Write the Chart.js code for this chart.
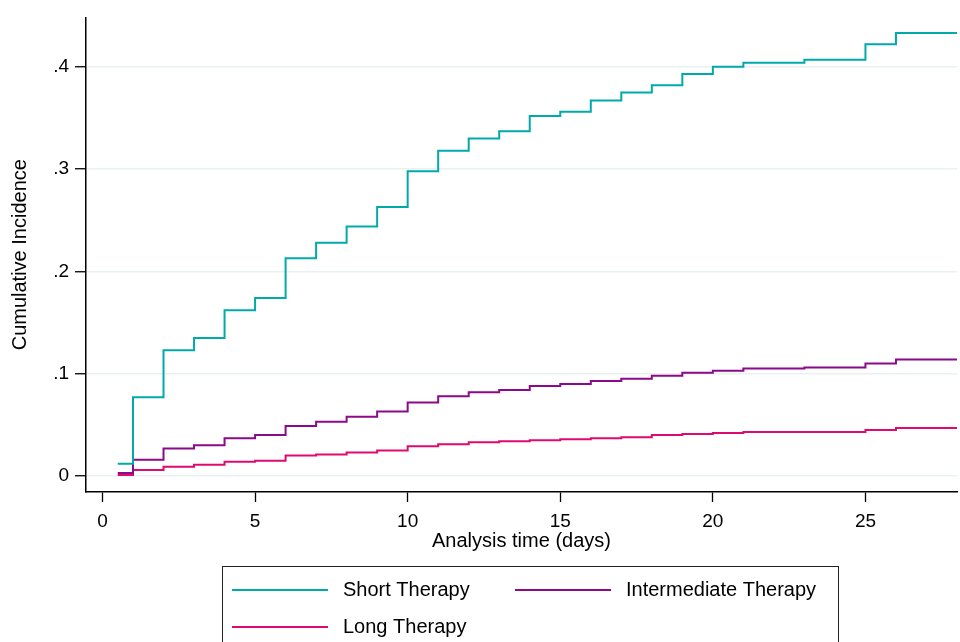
<!DOCTYPE html>
<html>
<head>
<meta charset="utf-8">
<script src="https://cdn.jsdelivr.net/npm/chart.js@4.4.0/dist/chart.umd.min.js"></script>
<style>
html, body { margin: 0; padding: 0; background: #fff; }
</style>
</head>
<body>
<canvas id="incidenceChart" width="960" height="642"></canvas>
<script>
// step times (days) and cumulative incidence
let days = [0.5, 1, 2, 3, 4, 5, 6, 7, 8, 9, 10, 11, 12, 13, 14, 15, 16, 17, 18, 19, 20, 21, 23, 25, 26, 28];
let shortTherapy = [0.012, 0.077, 0.123, 0.135, 0.162, 0.174, 0.213, 0.228, 0.244, 0.263, 0.298, 0.318, 0.330, 0.337, 0.352, 0.356, 0.367, 0.375, 0.382, 0.393, 0.400, 0.404, 0.407, 0.422, 0.433, 0.433];
let intermediateTherapy = [0.003, 0.016, 0.027, 0.030, 0.037, 0.040, 0.049, 0.053, 0.058, 0.063, 0.072, 0.078, 0.082, 0.084, 0.088, 0.090, 0.093, 0.095, 0.098, 0.101, 0.103, 0.105, 0.106, 0.110, 0.114, 0.114];
let longTherapy = [0.001, 0.006, 0.009, 0.011, 0.014, 0.015, 0.020, 0.021, 0.023, 0.025, 0.029, 0.031, 0.033, 0.034, 0.035, 0.036, 0.037, 0.038, 0.040, 0.041, 0.042, 0.043, 0.043, 0.045, 0.047, 0.047];
let seriesNames = ['Short Therapy', 'Intermediate Therapy', 'Long Therapy'];
let seriesColors = ['#00a9aa', '#8a0a8a', '#de0a70'];
let xTicks = [0, 5, 10, 15, 20, 25];
let yTicks = [0, 0.1, 0.2, 0.3, 0.4];

const FONT = '"Liberation Sans", Arial, sans-serif';

function toPoints(values) {
    return days.map((d, i) => ({ x: d, y: values[i] }));
}

function makeDataset(name, values, color) {
    return {
        label: name,
        data: toPoints(values),
        borderColor: color,
        backgroundColor: color,
        borderWidth: 2,
        stepped: 'before',
        pointRadius: 0,
        fill: false
    };
}

// Stata-style boxed legend under the plot
const boxLegend = {
    id: 'boxLegend',
    afterDraw(chart) {
        let c = chart.ctx;
        c.save();
        c.strokeStyle = '#222';
        c.lineWidth = 1;
        c.strokeRect(222.5, 566.5, 616, 100);
        let spots = [[232, 590], [515, 590], [232, 627]];
        c.font = '20px ' + FONT;
        c.textBaseline = 'middle';
        c.fillStyle = '#000';
        chart.data.datasets.forEach((ds, i) => {
            let [x, y] = spots[i];
            c.strokeStyle = ds.borderColor;
            c.lineWidth = 2;
            c.beginPath();
            c.moveTo(x, y);
            c.lineTo(x + 96, y);
            c.stroke();
            c.fillText(ds.label, x + 111, y);
        });
        c.restore();
    }
};

let ctx = document.getElementById('incidenceChart').getContext('2d');
let incidenceChart = new Chart(ctx, {
    type: 'line',
    data: {
        datasets: [
            makeDataset(seriesNames[0], shortTherapy, seriesColors[0]),
            makeDataset(seriesNames[1], intermediateTherapy, seriesColors[1]),
            makeDataset(seriesNames[2], longTherapy, seriesColors[2])
        ]
    },
    options: {
        responsive: false,
        devicePixelRatio: 1,
        animation: false,
        layout: { padding: { top: 16, right: 3, left: 0, bottom: 0 } },
        plugins: {
            legend: { display: false },
            tooltip: { enabled: false }
        },
        scales: {
            x: {
                type: 'linear',
                min: -0.54,
                max: 28,
                afterFit: function(scale) { scale.height = 150; },
                afterBuildTicks: function(scale) { scale.ticks = xTicks.map(v => ({ value: v })); },
                grid: { display: true, drawOnChartArea: false, tickColor: '#000', tickLength: 10, tickWidth: 1.3 },
                border: { display: true, color: '#000', width: 1.5 },
                ticks: {
                    color: '#000',
                    font: { family: FONT, size: 19 },
                    padding: 8,
                    maxRotation: 0,
                    callback: function(value) { return String(value); }
                },
                title: {
                    display: true,
                    text: 'Analysis time (days)',
                    color: '#000',
                    font: { family: FONT, size: 20 },
                    padding: { top: 0, bottom: 89 }
                }
            },
            y: {
                type: 'linear',
                min: -0.0156,
                max: 0.4483,
                afterFit: function(scale) { scale.width = 86; },
                afterBuildTicks: function(scale) { scale.ticks = yTicks.map(v => ({ value: v })); },
                grid: { color: '#e9f1f3', lineWidth: 1.5, tickColor: '#000', tickLength: 11, tickWidth: 1.3 },
                border: { display: true, color: '#000', width: 1.5 },
                ticks: {
                    color: '#000',
                    font: { family: FONT, size: 19 },
                    padding: 6,
                    callback: function(value) {
                        return value === 0 ? '0' : value.toFixed(1).replace(/^0/, '');
                    }
                },
                title: {
                    display: true,
                    text: 'Cumulative Incidence',
                    color: '#000',
                    font: { family: FONT, size: 20 },
                    padding: { top: 8, bottom: 0 }
                }
            }
        }
    },
    plugins: [boxLegend]
});
</script>
</body>
</html>
